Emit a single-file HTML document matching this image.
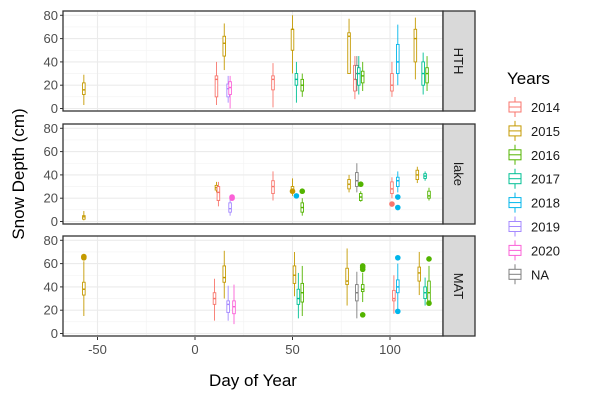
<!DOCTYPE html>
<html><head><meta charset="utf-8"><style>
body{margin:0;background:#fff;width:600px;height:400px;overflow:hidden}
svg text{font-family:"Liberation Sans",Arial,sans-serif}
</style></head><body>
<svg id="s" width="600" height="400" xmlns="http://www.w3.org/2000/svg"></svg>
<script>
const C={14:"#F8766D",15:"#C49A00",16:"#53B400",17:"#00C094",18:"#00B6EB",19:"#A58AFF",20:"#FB61D7",0:"#7F7F7F"};
const X0=63,X1=443,tops=[11,124,236],H=100;
const xs=d=>195+d*1.95;
let o='';
const panels=[
[[-57,15,3,12,16,22,29],[11,14,3,10,25,28,40],[15,15,33,45,56,62,73],[17,19,5,10,17,21,28],[18,20,0,12,18,23,28],[40,14,1,16,25,28,39],[50,15,30,50,68,68,80],[52,17,5,20,25,30,40],[55,16,10,15,20,25,30],[79,15,30,30,62,65,77],[82,14,8,15,25,37,45],[83,0,15,25,30,37,45],[84,17,12,20,30,35,45],[86,16,15,22,28,32,40],[101,14,10,15,20,30,40],[104,18,20,30,40,55,72],[113,15,25,40,60,68,78],[117,17,12,20,30,40,48],[119,16,15,22,30,35,45]],
[[-57,15,1,2,4,5,9],[11,15,25,27,29,31,34],[12,14,13,18,25,30,34],[18,19,5,8,11,16,20,[]],[19,20,20,20,21,21,21,[20,21]],[40,14,18,24,30,35,43],[50,15,22,25,27,30,37,[26]],[52,18,22,22,22,22,22,[22]],[55,16,5,8,12,16,20,[26]],[79,15,25,28,32,36,40],[83,0,25,30,35,42,50],[85,16,17,18,21,24,26,[32]],[101,14,20,24,28,34,38,[15]],[104,18,25,30,35,38,43,[21,12]],[114,15,33,36,40,44,47],[118,17,35,37,39,41,43],[120,16,18,20,22,26,29]],
[[-57,15,15,33,38,44,62,[65,66]],[10,14,11,25,30,35,47],[15,15,30,44,48,58,71],[17,19,11,18,25,28,41],[20,20,8,17,23,28,42],[51,15,32,43,50,58,70],[53,17,13,25,30,38,52],[55,16,15,27,35,43,58],[78,15,24,42,45,56,73],[83,0,13,28,35,42,53],[86,16,27,36,38,42,52,[16,55,57,58]],[102,14,17,28,30,37,50],[104,18,19,35,40,46,60,[65,19]],[115,15,33,45,52,57,70],[118,17,24,30,35,40,48],[120,16,25,28,35,45,58,[64,26]]]];
const names=["HTH","lake","MAT"];
tops.forEach((t,i)=>{
 const ys=v=>t+97.5-v*1.165;
 o+=`<rect x="${X0}" y="${t}" width="${X1-X0}" height="${H}" fill="#fff"/>`;
 for(let v=10;v<=70;v+=20)o+=`<line x1="${X0}" x2="${X1}" y1="${ys(v)}" y2="${ys(v)}" stroke="#F2F2F2" stroke-width="0.6"/>`;
 for(let d=-25;d<=75;d+=50)o+=`<line y1="${t}" y2="${t+H}" x1="${xs(d)}" x2="${xs(d)}" stroke="#F2F2F2" stroke-width="0.6"/>`;
 for(let v=0;v<=80;v+=20){o+=`<line x1="${X0}" x2="${X1}" y1="${ys(v)}" y2="${ys(v)}" stroke="#EBEBEB" stroke-width="1.1"/><line x1="${X0-3}" x2="${X0}" y1="${ys(v)}" y2="${ys(v)}" stroke="#333"/><text x="${X0-5}" y="${ys(v)+4.5}" font-size="13" fill="#4D4D4D" text-anchor="end">${v}</text>`;}
 for(let d=-50;d<=100;d+=50)o+=`<line y1="${t}" y2="${t+H}" x1="${xs(d)}" x2="${xs(d)}" stroke="#EBEBEB" stroke-width="1.1"/>`;
 panels[i].forEach(b=>{const [d,c,mn,q1,md,q3,mx,out]=b,x=xs(d),col=C[c];
  o+=`<line x1="${x}" x2="${x}" y1="${ys(mx)}" y2="${ys(mn)}" stroke="${col}" stroke-width="0.9"/>`;
  o+=`<rect x="${x-1.3}" y="${ys(q3)}" width="2.6" height="${Math.max(ys(q1)-ys(q3),1)}" fill="#fff" stroke="${col}" stroke-width="0.9"/>`;
  o+=`<line x1="${x-1.3}" x2="${x+1.3}" y1="${ys(md)}" y2="${ys(md)}" stroke="${col}" stroke-width="1.4"/>`;
  (out||[]).forEach(v=>o+=`<circle cx="${x}" cy="${ys(v)}" r="2.8" fill="${col}"/>`);
 });
 o+=`<rect x="${X0}" y="${t}" width="${X1-X0}" height="${H}" fill="none" stroke="#333" stroke-width="1.3"/>`;
 o+=`<rect x="${X1}" y="${t}" width="32" height="${H}" fill="#D9D9D9" stroke="#333" stroke-width="1.3"/>`;
 o+=`<text transform="translate(${X1+11},${t+H/2}) rotate(90)" font-size="13" fill="#1A1A1A" text-anchor="middle">${names[i]}</text>`;
});
for(let d=-50;d<=100;d+=50)o+=`<line y1="337" y2="340" x1="${xs(d)}" x2="${xs(d)}" stroke="#333"/><text x="${xs(d)}" y="354" font-size="13" fill="#4D4D4D" text-anchor="middle">${d}</text>`;
o+=`<text x="253" y="386" font-size="17" text-anchor="middle">Day of Year</text>`;
o+=`<text transform="translate(24,174) rotate(-90)" font-size="17" text-anchor="middle">Snow Depth (cm)</text>`;
o+=`<text x="507" y="84" font-size="17">Years</text>`;
[[14,"2014"],[15,"2015"],[16,"2016"],[17,"2017"],[18,"2018"],[19,"2019"],[20,"2020"],[0,"NA"]].forEach((k,j)=>{const y=107+j*23.9,col=C[k[0]];
 o+=`<line x1="515" x2="515" y1="${y-10}" y2="${y+10}" stroke="${col}"/><rect x="509" y="${y-5}" width="12" height="10" fill="#fff" stroke="${col}"/><line x1="509" x2="521" y1="${y}" y2="${y}" stroke="${col}"/><text x="531" y="${y+5}" font-size="13" fill="#1A1A1A">${k[1]}</text>`;});
document.getElementById('s').innerHTML=o;
</script>
</body></html>
